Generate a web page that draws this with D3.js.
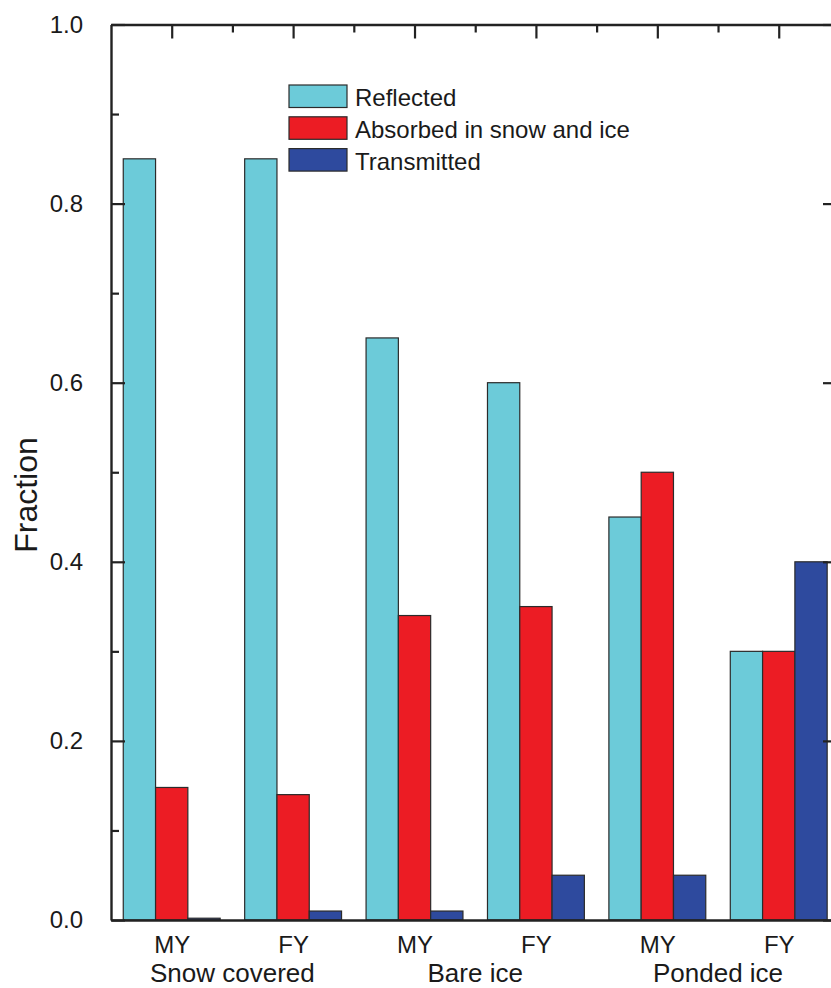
<!DOCTYPE html>
<html>
<head>
<meta charset="utf-8">
<script src="https://cdn.jsdelivr.net/npm/d3@7"></script>
<style>
  body { margin: 0; background: #fff; }
  text { font-family: "Liberation Sans", Arial, sans-serif; fill: #1a1a1a; }
</style>
</head>
<body>
<svg id="chart" width="831" height="988"></svg>
<script>
// data
const categories = ['MY', 'FY', 'MY', 'FY', 'MY', 'FY']
const groups = ['Snow covered', 'Bare ice', 'Ponded ice']
const seriesNames = ['Reflected', 'Absorbed in snow and ice', 'Transmitted']
const reflected = [0.85, 0.85, 0.65, 0.60, 0.45, 0.30]
const absorbed = [0.148, 0.14, 0.34, 0.35, 0.50, 0.30]
const transmitted = [0.002, 0.01, 0.01, 0.05, 0.05, 0.40]
const yTicks = [0, 0.2, 0.4, 0.6, 0.8, 1.0]
const yMinorTicks = [0.1, 0.3, 0.5, 0.7, 0.9]

const colors = ['#6ccbd9', '#ec1c24', '#2e4a9e']
const series = [reflected, absorbed, transmitted]

const svg = d3.select('#chart')
const plotL = 111, plotR = 833, plotT = 24.5, plotB = 920

// x is the category index, the frame runs a bit past the last group
const x = d3.scaleLinear().domain([-0.5, 5.447]).range([plotL, plotR])
const y = d3.scaleLinear().domain([0, 1]).range([plotB, plotT])
const barW = 0.266 // in category units

// bars
series.forEach((vals, s) => {
  svg.append('g').selectAll('rect')
    .data(vals)
    .join('rect')
    .attr('x', (d, i) => x(i + (s - 1.5) * barW))
    .attr('y', d => y(d))
    .attr('width', x(barW) - x(0))
    .attr('height', d => y(0) - y(d))
    .attr('fill', colors[s])
    .attr('stroke', '#2b2b2b')
    .attr('stroke-width', 1.2)
})

const frame = '#222'

// left axis, ticks pointing inward
const yAxis = svg.append('g').attr('transform', `translate(${plotL},0)`)
  .call(d3.axisLeft(y).tickValues(yTicks).tickFormat(d3.format('.1f')).tickSizeInner(-14).tickSizeOuter(0).tickPadding(28))
yAxis.select('.domain').attr('stroke', frame).attr('stroke-width', 2.4)
yAxis.selectAll('.tick line').attr('stroke', frame).attr('stroke-width', 2.2)
yAxis.selectAll('.tick text').attr('font-size', 24).attr('fill', '#1a1a1a')
  .attr('font-family', '"Liberation Sans", Arial, sans-serif')

const yMinor = svg.append('g').attr('transform', `translate(${plotL},0)`)
  .call(d3.axisLeft(y).tickValues(yMinorTicks).tickFormat('').tickSizeInner(-8).tickSizeOuter(0))
yMinor.select('.domain').remove()
yMinor.selectAll('.tick line').attr('stroke', frame).attr('stroke-width', 2.2)

// right axis (mostly off the picture)
const yRight = svg.append('g').attr('transform', `translate(${plotR},0)`)
  .call(d3.axisRight(y).tickValues(yTicks).tickFormat('').tickSizeInner(-10).tickSizeOuter(0))
yRight.select('.domain').attr('stroke', frame).attr('stroke-width', 2.4)
yRight.selectAll('.tick line').attr('stroke', frame).attr('stroke-width', 2.2)

// top axis: major at categories, minor between them
const xTop = svg.append('g').attr('transform', `translate(0,${plotT})`)
  .call(d3.axisTop(x).tickValues(d3.range(categories.length)).tickFormat('').tickSizeInner(-14).tickSizeOuter(0))
xTop.select('.domain').attr('stroke', frame).attr('stroke-width', 2.4)
xTop.selectAll('.tick line').attr('stroke', frame).attr('stroke-width', 2.2)
const xTopMinor = svg.append('g').attr('transform', `translate(0,${plotT})`)
  .call(d3.axisTop(x).tickValues(d3.range(0.5, 5, 1)).tickFormat('').tickSizeInner(-8).tickSizeOuter(0))
xTopMinor.select('.domain').remove()
xTopMinor.selectAll('.tick line').attr('stroke', frame).attr('stroke-width', 2.2)

// bottom axis with category names
const xBottom = svg.append('g').attr('transform', `translate(0,${plotB})`)
  .call(d3.axisBottom(x).tickValues(d3.range(categories.length)).tickFormat(i => categories[i]).tickSize(0).tickPadding(16))
xBottom.select('.domain').attr('stroke', frame).attr('stroke-width', 2.4)
xBottom.selectAll('.tick text').attr('font-size', 24).attr('fill', '#1a1a1a')
  .attr('font-family', '"Liberation Sans", Arial, sans-serif')

// group names under each pair
svg.append('g').selectAll('text')
  .data(groups)
  .join('text')
  .attr('x', (d, i) => x(i * 2 + 0.5))
  .attr('y', 982)
  .attr('text-anchor', 'middle')
  .attr('font-size', 26)
  .text(d => d)

// y title
svg.append('text')
  .attr('transform', 'translate(37,495) rotate(-90)')
  .attr('text-anchor', 'middle')
  .attr('font-size', 32)
  .text('Fraction')

// legend
const legend = svg.append('g').attr('transform', 'translate(289,85)')
const item = legend.selectAll('g')
  .data(seriesNames)
  .join('g')
  .attr('transform', (d, i) => `translate(0,${i * 31.8})`)
item.append('rect')
  .attr('width', 58).attr('height', 22.5)
  .attr('fill', (d, i) => colors[i])
  .attr('stroke', '#2b2b2b').attr('stroke-width', 1.2)
item.append('text')
  .attr('x', 66).attr('y', 21)
  .attr('font-size', 24)
  .text(d => d)
</script>
</body>
</html>
